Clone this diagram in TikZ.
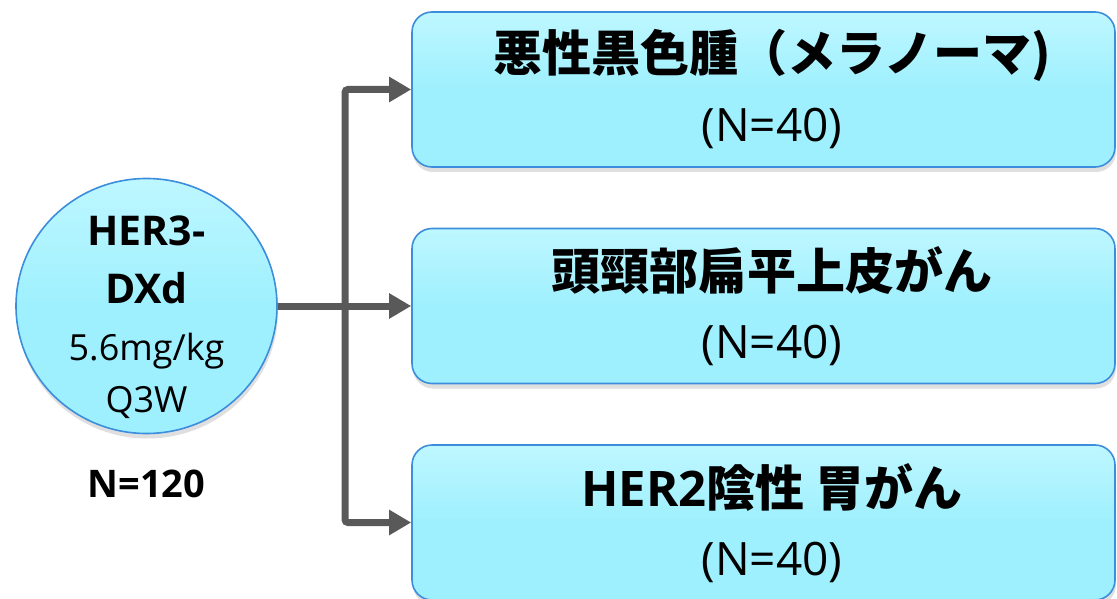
\documentclass[tikz,border=0pt]{standalone}
\usepackage{fontspec}
\setmainfont{Open Sans}
\newfontfamily\jp{Noto Sans CJK JP}
\usetikzlibrary{shadows,arrows.meta,shapes.geometric}
\definecolor{boxfill}{RGB}{158,240,254}
\definecolor{boxtop}{RGB}{190,247,255}
\definecolor{boxline}{RGB}{60,142,220}
\definecolor{connc}{RGB}{89,89,89}
\begin{document}
\begin{tikzpicture}[x=1pt,y=-1pt,
  shapebase/.style={draw=boxline, line width=1.6pt, top color=boxtop, bottom color=boxfill, middle color=boxfill,
    drop shadow={shadow xshift=1pt, shadow yshift=-5pt, opacity=0.25}, inner sep=0pt},
  armbox/.style={shapebase, rectangle, rounded corners=20pt, minimum width=703pt, minimum height=155pt},
  drugcirc/.style={shapebase, ellipse, minimum width=261pt, minimum height=255pt},
  titletext/.style={anchor=base, font=\fontsize{49}{53}\selectfont\bfseries},
  ntext/.style={anchor=base, font=\fontsize{46}{50}\selectfont},
  circbold/.style={anchor=base, font=\fontsize{41}{45}\selectfont\bfseries},
  circreg/.style={anchor=base, font=\fontsize{36}{40}\selectfont},
  conn/.style={draw=connc, line width=7pt, rounded corners=3pt},
  arrowconn/.style={conn, -{Triangle[length=22pt,width=24pt]}}
]
\useasboundingbox (0,0) rectangle (1117,599);

\node[drugcirc] (c) at (146.5,306) {};
\node[circbold] (c1) at (146.5,245) {HER3-};
\node[circbold] (c2) at (146.5,303) {DXd};
\node[circreg] (c3) at (146.5,360) {5.6mg/kg};
\node[circreg] (c4) at (146.5,412) {Q3W};
\node[anchor=base, font=\fontsize{38}{42}\selectfont\bfseries] (n) at (146.5,497) {N=120};

\node[armbox] (b1) at (763.5,89.5) {};
\node[armbox] (b2) at (763.5,306) {};
\node[armbox] (b3) at (763.5,522.5) {};

\node[titletext] (t1) at (772,72) {\jp\bfseries 悪性黒色腫（メラノーマ)};
\node[ntext] (m1) at (772,142) {(N=40)};
\node[titletext] (t2) at (772,289) {\jp\bfseries 頭頸部扁平上皮がん};
\node[ntext] (m2) at (772,358) {(N=40)};
\node[titletext] (t3) at (772,506) {HER2{\jp\bfseries 陰性 胃がん}};
\node[ntext] (m3) at (772,575) {(N=40)};

\coordinate (j) at (345,306);
\draw[conn] (c.east) -- (j);
\draw[arrowconn] (j) |- (b1.west);
\draw[arrowconn] (j) -- (b2.west);
\draw[arrowconn] (j) |- (b3.west);
\end{tikzpicture}
\end{document}
